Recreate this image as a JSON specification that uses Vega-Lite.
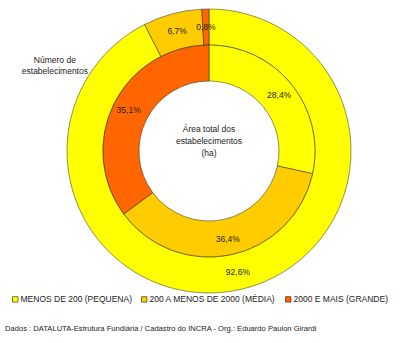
{
  "$schema": "https://vega.github.io/schema/vega-lite/v6.json",
  "width": 418,
  "height": 302,
  "autosize": "none",
  "padding": {"left": 0, "top": 0, "right": 0, "bottom": 41},
  "background": "white",
  "config": {
    "view": {"stroke": null},
    "font": "Liberation Sans",
    "locale": {"number": {"decimal": ",", "thousands": ".", "grouping": [3], "currency": ["R$", ""]}}
  },
  "title": {
    "text": "Dados : DATALUTA-Estrutura Fundiária / Cadastro do INCRA - Org.: Eduardo Paulon Girardi",
    "orient": "bottom",
    "anchor": "start",
    "frame": "group",
    "baseline": "top",
    "fontSize": 7.6,
    "fontWeight": "normal",
    "font": "Liberation Sans",
    "color": "#222222",
    "dx": 5,
    "offset": 21
  },
  "datasets": {
    "aneis": [
      {"anel": "Número de estabelecimentos", "classe": "MENOS DE 200 (PEQUENA)", "ordem": 1, "pct": 0.926},
      {"anel": "Número de estabelecimentos", "classe": "200 A MENOS DE 2000 (MÉDIA)", "ordem": 2, "pct": 0.067},
      {"anel": "Número de estabelecimentos", "classe": "2000 E MAIS (GRANDE)", "ordem": 3, "pct": 0.008},
      {"anel": "Área total dos estabelecimentos (ha)", "classe": "MENOS DE 200 (PEQUENA)", "ordem": 1, "pct": 0.284},
      {"anel": "Área total dos estabelecimentos (ha)", "classe": "200 A MENOS DE 2000 (MÉDIA)", "ordem": 2, "pct": 0.364},
      {"anel": "Área total dos estabelecimentos (ha)", "classe": "2000 E MAIS (GRANDE)", "ordem": 3, "pct": 0.351}
    ],
    "rotulos": [
      {"rotulo": ["Área total dos", "estabelecimentos", "(ha)"]}
    ],
    "rotulo_ext": [
      {"rotulo": ["Número de", "estabelecimentos"]}
    ]
  },
  "layer": [
    {
      "data": {"name": "aneis"},
      "transform": [{"filter": "datum.anel === 'Número de estabelecimentos'"}],
      "mark": {"type": "arc", "radius": 142, "radius2": 106, "stroke": "#222222", "strokeWidth": 0.5},
      "encoding": {
        "theta": {"field": "pct", "type": "quantitative", "stack": true},
        "order": {"field": "ordem", "type": "quantitative"},
        "color": {
          "field": "classe",
          "type": "nominal",
          "scale": {
            "domain": ["MENOS DE 200 (PEQUENA)", "200 A MENOS DE 2000 (MÉDIA)", "2000 E MAIS (GRANDE)"],
            "range": ["#FFFF00", "#FFCC00", "#FF6600"]
          },
          "legend": {
            "title": null,
            "orient": "none",
            "direction": "horizontal",
            "legendX": 11,
            "legendY": 295,
            "symbolType": "square",
            "symbolSize": 30,
            "symbolStrokeColor": "#222222",
            "symbolStrokeWidth": 0.6,
            "labelFontSize": 8.5,
            "labelFont": "Liberation Sans",
            "labelColor": "#222222",
            "labelOffset": 1,
            "columnPadding": 8
          }
        }
      }
    },
    {
      "data": {"name": "aneis"},
      "transform": [{"filter": "datum.anel !== 'Número de estabelecimentos'"}],
      "mark": {"type": "arc", "radius": 106, "radius2": 70, "stroke": "#222222", "strokeWidth": 0.5},
      "encoding": {
        "theta": {"field": "pct", "type": "quantitative", "stack": true},
        "order": {"field": "ordem", "type": "quantitative"},
        "color": {"field": "classe", "type": "nominal"}
      }
    },
    {
      "data": {"name": "aneis"},
      "transform": [{"filter": "datum.anel === 'Número de estabelecimentos'"}],
      "mark": {"type": "text", "radius": 124, "fontSize": 8.5, "color": "#222222"},
      "encoding": {
        "theta": {"field": "pct", "type": "quantitative", "stack": true},
        "order": {"field": "ordem", "type": "quantitative"},
        "detail": {"field": "classe", "type": "nominal"},
        "text": {"field": "pct", "type": "quantitative", "format": ".1%"}
      }
    },
    {
      "data": {"name": "aneis"},
      "transform": [{"filter": "datum.anel !== 'Número de estabelecimentos'"}],
      "mark": {"type": "text", "radius": 90, "fontSize": 8.5, "color": "#222222"},
      "encoding": {
        "theta": {"field": "pct", "type": "quantitative", "stack": true},
        "order": {"field": "ordem", "type": "quantitative"},
        "detail": {"field": "classe", "type": "nominal"},
        "text": {"field": "pct", "type": "quantitative", "format": ".1%"}
      }
    },
    {
      "data": {"name": "rotulos"},
      "mark": {"type": "text", "fontSize": 8.5, "color": "#222222", "lineHeight": 12, "dy": -22},
      "encoding": {"text": {"field": "rotulo"}}
    },
    {
      "data": {"name": "rotulo_ext"},
      "mark": {"type": "text", "fontSize": 8.5, "color": "#222222", "lineHeight": 11, "theta": 5.246, "radius": 179},
      "encoding": {"text": {"field": "rotulo"}}
    }
  ],
  "resolve": {"scale": {"theta": "independent"}}
}
